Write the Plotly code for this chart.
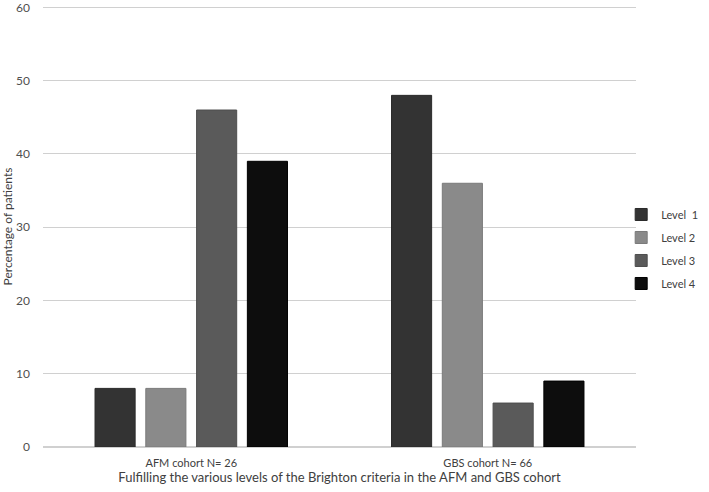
import plotly.graph_objects as go

# cohorts on the x axis
cohorts = ["AFM cohort N= 26", "GBS cohort N= 66"]

# percentage of patients per Brighton level
level_names = ["Level  1", "Level 2", "Level 3", "Level 4"]
level1 = [8, 48]
level2 = [8, 36]
level3 = [46, 6]
level4 = [39, 9]

series = [level1, level2, level3, level4]
colors = ["#333333", "#8a8a8a", "#5a5a5a", "#0d0d0d"]
outlines = ["#2a2a2a", "#7a7a7a", "#4e4e4e", "#000000"]

fig = go.Figure()
for i, (name, vals, col, ol) in enumerate(zip(level_names, series, colors, outlines)):
    fig.add_trace(go.Bar(
        x=cohorts,
        y=vals,
        name=name,
        legendgroup="g%d" % i,
        marker=dict(color=col, line=dict(color=ol, width=1)),
    ))

txt = "#404040"
fnt = "Lato, Open Sans, sans-serif"

fig.update_layout(
    width=709,
    height=492,
    barmode="group",
    bargap=0.315,
    bargroupgap=0.21,
    plot_bgcolor="white",
    paper_bgcolor="white",
    font=dict(family=fnt, size=12, color=txt),
    margin=dict(l=43, r=73, t=6, b=45),
    legend=dict(
        x=0.975, y=0.449, xanchor="left", yanchor="middle",
        font=dict(size=11, color=txt),
        itemwidth=30,
        tracegroupgap=4,
        borderwidth=0,
        bgcolor="rgba(0,0,0,0)",
    ),
)

fig.update_yaxes(
    range=[0, 60.2],
    dtick=10,
    tick0=0,
    showgrid=True,
    gridcolor="#d0d0d0",
    gridwidth=1,
    zeroline=True,
    zerolinecolor="#d0d0d0",
    showline=False,
    automargin=False,
    ticklabeloverflow="allow",
    ticklabelstandoff=12,
    tickfont=dict(size=12, color="#505050"),
    title=dict(text="Percentage of patients", standoff=6,
               font=dict(size=12, color=txt)),
)

fig.update_xaxes(
    showgrid=False,
    showline=False,
    automargin=False,
    ticklabelstandoff=8,
    tickfont=dict(size=11, color=txt),
    title=dict(text="Fulfilling the various levels of the Brighton criteria in the AFM and GBS cohort",
               standoff=2, font=dict(size=13, color=txt)),
)

# the page body has a default 8px margin; remove it so the chart sits at the window corner
fig.write_html("out.html", config={"displayModeBar": False},
               post_script="document.body.style.margin='0';")
